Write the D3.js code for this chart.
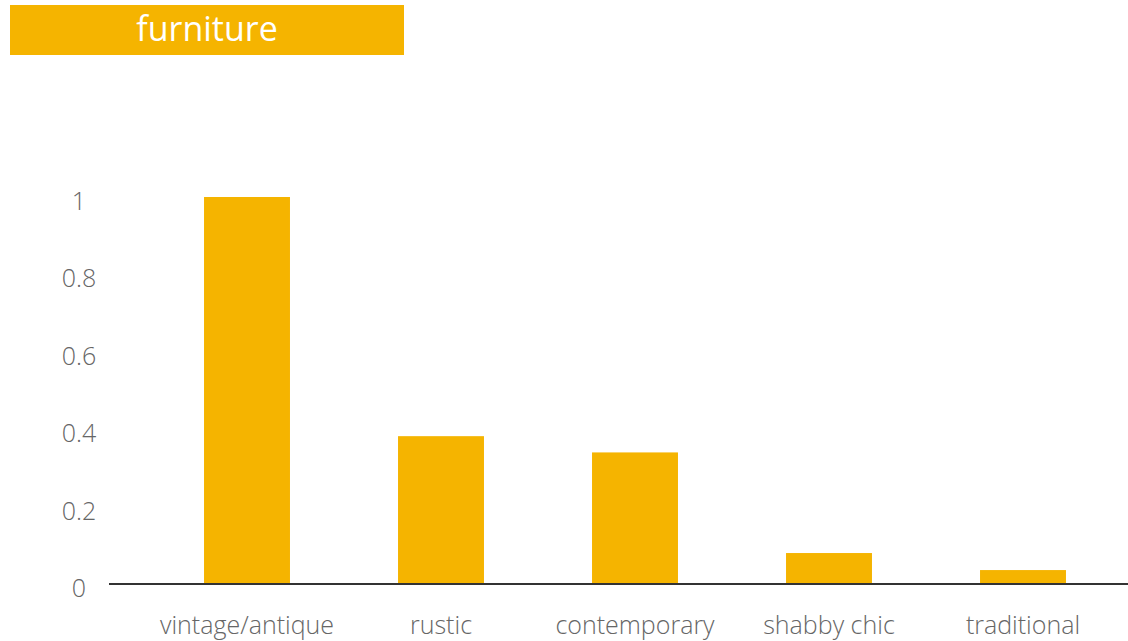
<!DOCTYPE html>
<html><head><meta charset="utf-8">
<script src="https://cdn.jsdelivr.net/npm/d3@7"></script>
<style>html,body{margin:0;padding:0;background:#fff;}svg{display:block;}</style>
</head><body>
<script>
const title = "furniture";
const categories = ["vintage/antique","rustic","contemporary","shabby chic","traditional"];
const values = [1.0, 0.382, 0.34, 0.08, 0.036];
const yTicks = [0, 0.2, 0.4, 0.6, 0.8, 1];
const yTickLabels = ["0","0.2","0.4","0.6","0.8","1"];

const W = 1128, H = 641;
const color = "#F5B400";
const svg = d3.select("body").append("svg").attr("width", W).attr("height", H);

// title box
svg.append("rect").attr("x",10).attr("y",5).attr("width",394).attr("height",50).attr("fill",color);
svg.append("text").attr("x",207).attr("y",41).attr("text-anchor","middle")
  .attr("font-family","'Open Sans'").attr("font-weight",500).attr("font-size",34)
  .attr("fill","#fff").text(title);

const x = d3.scaleBand().domain(categories).range([150,1120]).paddingInner(0.557).paddingOuter(0.2785);
const y = d3.scaleLinear().domain([0,1]).range([584,197]);

svg.selectAll("rect.bar").data(values).enter().append("rect").attr("class","bar")
  .attr("x",(d,i)=>x(categories[i])).attr("width",x.bandwidth())
  .attr("y",d=>y(d)).attr("height",d=>y(0)-y(d)).attr("fill",color);

// y tick labels
svg.selectAll("text.yt").data(yTicks).enter().append("text").attr("class","yt")
  .attr("x",79).attr("y",d=>y(d)+13).attr("text-anchor","middle")
  .attr("font-family","'Open Sans'").attr("font-weight",300).attr("font-size",25)
  .attr("fill","#666").text((d,i)=>yTickLabels[i]);

// baseline
svg.append("line").attr("x1",109).attr("x2",W).attr("y1",y(0)).attr("y2",y(0))
  .attr("stroke","#333").attr("stroke-width",2);

// x labels
svg.selectAll("text.xl").data(categories).enter().append("text").attr("class","xl")
  .attr("x",d=>x(d)+x.bandwidth()/2).attr("y",634).attr("text-anchor","middle")
  .attr("font-family","'Open Sans'").attr("font-weight",300).attr("font-size",25)
  .attr("fill","#666").text(d=>d);
</script>
</body></html>
